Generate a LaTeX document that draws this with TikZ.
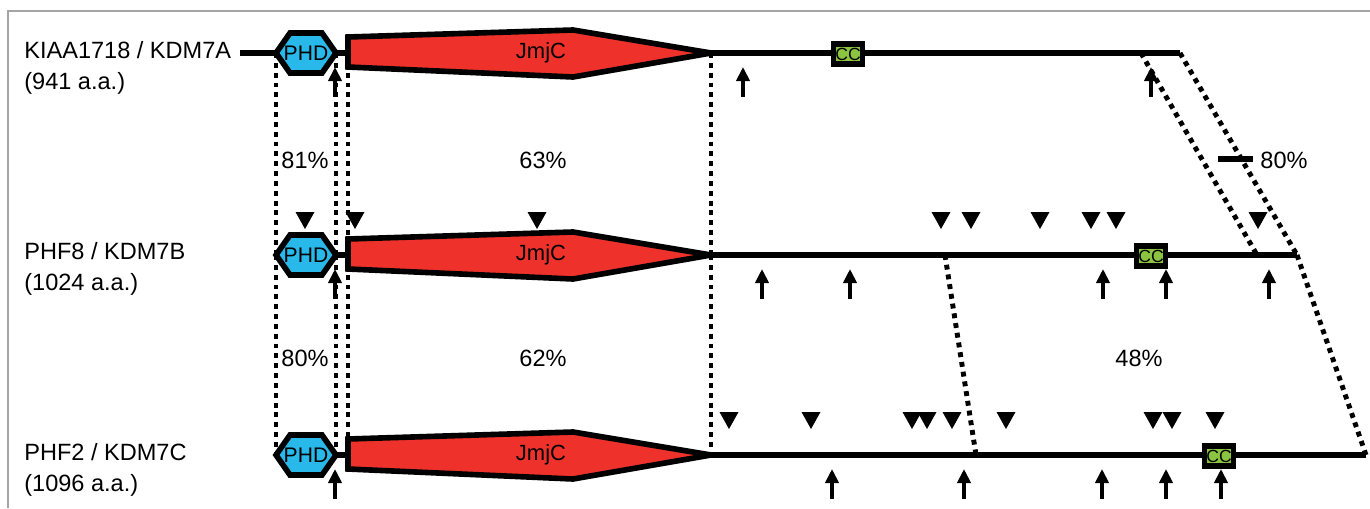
\documentclass[tikz,border=0pt]{standalone}
\usepackage{fontspec}
\setmainfont{Liberation Sans}
\usepackage{xcolor}
\definecolor{PhdBlue}{RGB}{40,184,234}
\definecolor{JmjRed}{RGB}{238,50,43}
\definecolor{CcGreen}{RGB}{138,196,64}
\definecolor{FrameGray}{RGB}{165,165,165}
\newcommand{\bigtext}{\fontsize{13.4}{17.5}\selectfont}
\newcommand{\mutmark}[2]{\fill (#1-9.5,#2-43) -- (#1+9.5,#2-43) -- (#1,#2-26) -- cycle;}
\usetikzlibrary{arrows.meta}

\tikzset{
	chain/.style={line width=3.5pt},
	domainbox/.style={line width=3.2pt, line join=miter},
	homol/.style={line width=2.8pt, dash pattern=on 2.8pt off 2.8pt},
	site/.style={-{Triangle[width=7.5pt,length=8pt]}, line width=2.2pt},
	protname/.style={anchor=west, align=left, font=\bigtext, inner sep=0pt},
	ident/.style={font=\bigtext, inner sep=0pt},
	ccbox/.style={draw, fill=CcGreen, line width=3pt, minimum width=0.58cm, minimum height=0.4cm, inner sep=0pt, font=\fontsize{10}{10}\selectfont}
}

\begin{document}
\begin{tikzpicture}[x=0.02cm, y=-0.02cm]
	\useasboundingbox (0,0) rectangle (1370,508);

	% Frame
	\draw[FrameGray, line width=0.8pt] (8,508) -- (8,11) -- (1370,11);

	% Names
	\node[protname] (nameA) at (24,68) {KIAA1718 / KDM7A\\(941 a.a.)};
	\node[protname] (nameB) at (24,269) {PHF8 / KDM7B\\(1024 a.a.)};
	\node[protname] (nameC) at (24,470) {PHF2 / KDM7C\\(1096 a.a.)};

	% Domains
	\foreach \row/\y in {A/53, B/255, C/455} {
		\coordinate (phdL\row) at (276,\y);
		\coordinate (phdR\row) at (336,\y);
		\coordinate (jmjL\row) at (348,\y);
		\coordinate (jmjT\row) at (711,\y);
		\draw[chain] (phdR\row) -- (jmjL\row);
		\filldraw[domainbox, fill=JmjRed] (348,\y-16) -- (573,\y-23) -- (711,\y) -- (573,\y+24) -- (348,\y+14) -- cycle;
		\filldraw[domainbox, fill=PhdBlue] (276,\y) -- (290,\y-20) -- (322,\y-20) -- (336,\y) -- (322,\y+20) -- (290,\y+20) -- cycle;
		\node[font=\fontsize{12}{13}\selectfont, inner sep=0pt] (phd\row) at (306,\y) {PHD};
		\node[font=\fontsize{12.5}{13}\selectfont, inner sep=0pt] (jmjc\row) at (541,\y) {JmjC};
	}

	% Backbones
	\coordinate (startA) at (240,53);
	\coordinate (endA) at (1180,53);
	\coordinate (endB) at (1297,255);
	\coordinate (endC) at (1366,455);
	\draw[chain] (startA) -- (phdLA);
	\draw[chain] (jmjTA) -- (endA);
	\draw[chain] (jmjTB) -- (endB);
	\draw[chain] (jmjTC) -- (endC);

	% Homology
	\foreach \u/\v in {A/B, B/C}
		\foreach \c in {phdL, phdR, jmjL, jmjT}
			\draw[homol] (\c\u) -- (\c\v);
	\coordinate (cutA) at (1141,53);
	\coordinate (cutB1) at (1257,255);
	\coordinate (cutB2) at (945,255);
	\coordinate (cutC) at (976,455);
	\draw[homol] (cutA) -- (cutB1);
	\draw[homol] (endA) -- (endB);
	\draw[homol] (cutB2) -- (cutC);
	\draw[homol] (endB) -- (endC);

	\node[ident] (idAB1) at (305,160) {81\%};
	\node[ident] (idAB2) at (543,160) {63\%};
	\node[ident] (idAB3) at (1284,160) {80\%};
	\coordinate (barL) at (1218,159);
	\draw[chain] (barL) -- ([xshift=-4pt]idAB3.west |- barL);
	\node[ident] (idBC1) at (305,358) {80\%};
	\node[ident] (idBC2) at (543,358) {62\%};
	\node[ident] (idBC3) at (1139,358) {48\%};

	% CC
	\node[ccbox] (ccA) at (848,54) {CC};
	\node[ccbox] (ccB) at (1151,256) {CC};
	\node[ccbox] (ccC) at (1219,456) {CC};

	% Sites
	\foreach \x in {335, 743, 1151}
		\draw[site] (\x,97) -- (\x,67);
	\foreach \x in {335, 762, 850, 1103, 1166, 1269}
		\draw[site] (\x,299) -- (\x,269);
	\foreach \x in {335, 832, 964, 1102, 1166, 1221}
		\draw[site] (\x,499) -- (\x,469);

	% Mutations
	\foreach \x in {305, 355, 537, 941, 971, 1040, 1091, 1116, 1258}
		{\mutmark{\x}{255}}
	\foreach \x in {729, 811, 912, 927, 952, 1006, 1153, 1172, 1215}
		{\mutmark{\x}{455}}

\end{tikzpicture}
\end{document}
